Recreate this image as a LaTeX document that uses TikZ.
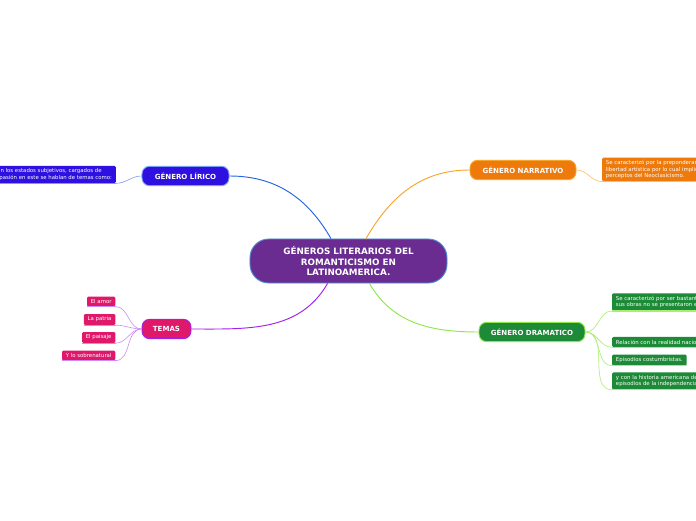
\documentclass[tikz,border=0pt]{standalone}
\usepackage{fontspec}
\setmainfont{DejaVu Sans}
\usetikzlibrary{positioning}
\definecolor{rootfill}{HTML}{6A2C90}
\definecolor{rootline}{HTML}{4F8FD8}
\definecolor{lirfill}{HTML}{2E10E0}
\definecolor{lirline}{HTML}{2563E6}
\definecolor{lirsoft}{HTML}{7A9CF5}
\definecolor{narfill}{HTML}{EF7A0C}
\definecolor{narline}{HTML}{F6A62A}
\definecolor{narsoft}{HTML}{F8C060}
\definecolor{drafill}{HTML}{1D8A37}
\definecolor{draline}{HTML}{8EE84A}
\definecolor{drasoft}{HTML}{A6F070}
\definecolor{temfill}{HTML}{E0186A}
\definecolor{temline}{HTML}{A020F0}
\definecolor{temsoft}{HTML}{C88CFA}
\tikzset{
  root/.style    = {draw=rootline, fill=rootfill, rounded corners=16pt, line width=0.8pt, text=white,
                    font=\fontsize{7.5}{9.2}\selectfont\bfseries, align=center,
                    minimum width=5.91cm, minimum height=1.32cm},
  topic/.style   = {rounded corners=6.5pt, line width=0.8pt, text=white,
                    font=\fontsize{6}{7}\selectfont\bfseries, minimum height=0.58cm},
  leaf/.style    = {rounded corners=1pt, text=white, font=\fontsize{4.6}{5.4}\selectfont,
                    align=left, inner xsep=3.2pt, inner ysep=2.4pt},
  uline/.style   = {line width=1.1pt},
  link/.style    = {line width=0.8pt},
  twig/.style    = {line width=0.5pt},
}

\begin{document}
\begin{tikzpicture}[x=0.03cm,y=0.03cm]
  \clip (0,0) rectangle (696,520);
  \fill[white] (0,0) rectangle (696,520);

  % ---- centre ----
  \node[root] (root) at (348.5,259) {GÉNEROS LITERARIOS DEL\\ROMANTICISMO EN\\LATINOAMERICA.};

  % ---- main topics ----
  \node[topic, draw=lirsoft, fill=lirfill, minimum width=2.61cm] (lirico) at (185.5,344) {GÉNERO LÍRICO};
  \node[topic, draw=narline, fill=narfill, minimum width=3.18cm] (narrativo) at (523,350) {GÉNERO NARRATIVO};
  \node[topic, draw=draline, fill=drafill, minimum width=3.18cm] (dramatico) at (532,188) {GÉNERO DRAMATICO};
  \node[topic, draw=temline, fill=temfill, minimum width=1.47cm] (temas) at (166.5,191) {TEMAS};

  \draw[link, lirline] (root.128) to[out=120, in=0] (lirico.east);
  \draw[link, narline] (root.52) to[out=60, in=180] (narrativo.west);
  \draw[link, draline] (root.-47) to[out=-60, in=180] (dramatico.west);
  \draw[link, temline] (root.-133) to[out=-120, in=0] (temas.east);

  % ---- left: lirico ----
  \node[leaf, fill=lirfill, anchor=east] (lir1) at (116,345.5)
    {Se centra en los estados subjetivos, cargados de\\emoción y pasión en este se hablan de temas como:};
  \draw[uline, lirsoft] (lir1.south west) -- (lir1.south east);
  \draw[twig, lirsoft] (lirico.west) to[out=180, in=0] (lir1.south east);

  % ---- right: narrativo ----
  \node[leaf, fill=narfill, anchor=west] (nar1) at (602,350.5)
    {Se caracterizó por la preponderancia de la\\libertad artística por lo cual implicaba romper con los\\perceptos del Neoclasicismo.};
  \draw[uline, narsoft] (nar1.south west) -- (nar1.south east);
  \draw[twig, narsoft] (narrativo.east) to[out=0, in=180] (nar1.south west);

  % ---- right: dramatico ----
  \foreach \n/\y/\t in {%
    dra1/218/{Se caracterizó por ser bastante libre, ya que\\sus obras no se presentaron en teatros.},
    dra2/178/{Relación con la realidad nacional.},
    dra3/160/{Episodios costumbristas.},
    dra4/139/{y con la historia americana de los\\episodios de la independencia.}}
  {
    \node[leaf, fill=drafill, anchor=west] (\n) at (612,\y) {\t};
    \draw[uline, drasoft] (\n.south west) -- (\n.south east);
    \draw[twig, drasoft] (dramatico.east) to[out=0, in=180] (\n.south west);
  }

  % ---- left: temas ----
  \foreach \n/\y/\t in {tem1/218.5/El amor, tem2/200.5/La patria, tem3/182.5/El paisaje, tem4/164.5/Y lo sobrenatural} {
    \node[leaf, fill=temfill, anchor=east] (\n) at (115.5,\y) {\t};
    \draw[uline, temsoft] (\n.south west) -- (\n.south east);
    \draw[twig, temsoft] (temas.west) to[out=180, in=0] (\n.south east);
  }
\end{tikzpicture}
\end{document}
